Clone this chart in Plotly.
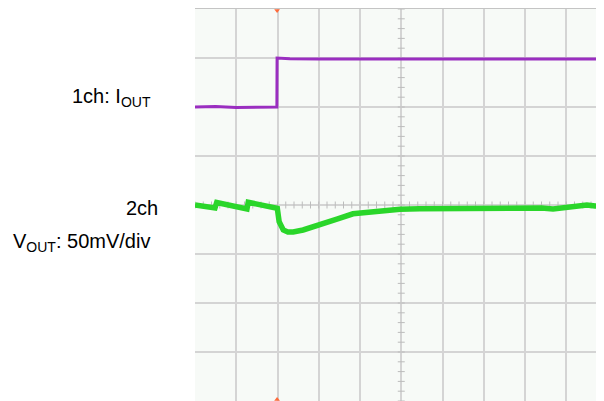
import plotly.graph_objects as go

# Time axis in divisions, amplitude in divisions (center = 0)
ch1_t = [0.0, 0.5, 1.0, 1.5, 1.985, 1.99, 2.05, 2.3, 3.0, 5.0, 7.0, 9.0, 9.92]
ch1_v = [2.0, 2.01, 1.99, 2.0, 2.0, 3.0, 3.0, 2.985, 2.98, 2.98, 2.975, 2.98, 2.98]

ch2_t = [0.0, 0.15, 0.3, 0.485, 0.526, 0.7, 0.9, 1.1, 1.26, 1.29, 1.45, 1.65, 1.85, 1.995,
         2.04, 2.14, 2.25, 2.38, 2.62, 3.03, 3.44, 3.83, 4.24, 4.65, 4.97, 5.45, 5.94,
         6.4, 6.91, 7.39, 7.8, 8.12, 8.4, 8.68, 9.09, 9.3, 9.5, 9.7, 9.92]
ch2_v = [0.0, -0.02, -0.03, -0.06, 0.05, 0.02, -0.02, -0.05, -0.08, 0.055, 0.03, -0.01, -0.04, -0.067,
         -0.34, -0.51, -0.55, -0.55, -0.51, -0.41, -0.29, -0.18, -0.14, -0.10, -0.088, -0.075, -0.07,
         -0.065, -0.06, -0.07, -0.06, -0.05, -0.06, -0.08, -0.05, -0.03, 0.0, -0.02, -0.035]

trig_t = [1.99]
ticks_x = [i / 5 for i in range(0, 50)]
ticks_y = [i / 5 - 4 for i in range(0, 41)]

fig = go.Figure()

# center-axis minor ticks
fig.add_trace(go.Scatter(x=ticks_x, y=[0] * len(ticks_x), mode="markers",
                         marker=dict(symbol="line-ns", size=5, line=dict(color="#bcbcbc", width=1)),
                         hoverinfo="skip", showlegend=False))
fig.add_trace(go.Scatter(x=[5] * len(ticks_y), y=ticks_y, mode="markers",
                         marker=dict(symbol="line-ew", size=5, line=dict(color="#bcbcbc", width=1)),
                         hoverinfo="skip", showlegend=False))

fig.add_trace(go.Scatter(x=ch1_t, y=ch1_v, mode="lines",
                         line=dict(color="#9a2ec0", width=3), showlegend=False))
fig.add_trace(go.Scatter(x=ch2_t, y=ch2_v, mode="lines",
                         line=dict(color="#2ad62a", width=5.5), showlegend=False))

# trigger markers
fig.add_trace(go.Scatter(x=trig_t * 2, y=[3.97, -3.97], mode="markers",
                         marker=dict(symbol=["triangle-down", "triangle-up"], size=5, color="#ff6a3a"),
                         cliponaxis=False, showlegend=False, hoverinfo="skip"))

# page body has an 8px margin; figure sized/placed to compensate
fig.update_layout(
    width=596, height=393,
    margin=dict(l=187, r=0, t=1, b=0),
    paper_bgcolor="white", plot_bgcolor="#f7faf7",
    font=dict(family="Liberation Sans, Arial, sans-serif", size=20, color="#000"),
    xaxis=dict(range=[0, 9.915], dtick=1, tick0=0, showticklabels=False, ticks="",
               gridcolor="#d4d4d4", gridwidth=1.5, zeroline=False,
               showline=True, mirror=True, linecolor="#c4c4c4", linewidth=1.5),
    yaxis=dict(range=[-4, 4], dtick=1, tick0=0, showticklabels=False, ticks="",
               gridcolor="#d4d4d4", gridwidth=1.5, zeroline=False, showline=False),
    annotations=[
        dict(text="1ch: I<sub>OUT</sub>", xref="paper", yref="y", x=-0.103, y=2.2,
             xanchor="right", yanchor="middle", showarrow=False),
        dict(text="2ch", xref="paper", yref="y", x=-0.086, y=-0.06,
             xanchor="right", yanchor="middle", showarrow=False),
        dict(text="V<sub>OUT</sub>: 50mV/div", xref="paper", yref="y", x=-0.105, y=-0.755,
             xanchor="right", yanchor="middle", showarrow=False),
    ],
)

fig.write_html("out.html")
